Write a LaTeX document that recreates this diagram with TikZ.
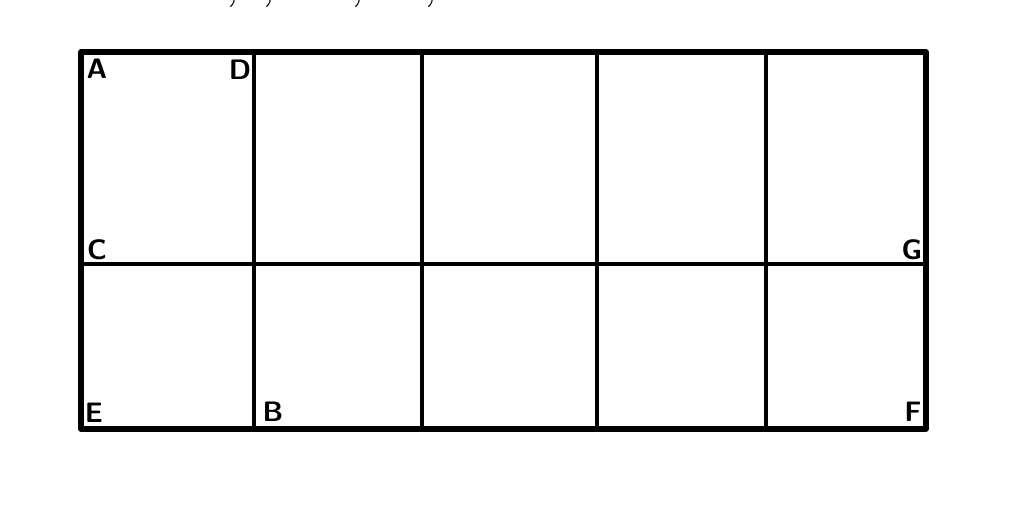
\documentclass[tikz,border=0pt]{standalone}
\usepackage{tikz}
\usetikzlibrary{calc}

\begin{document}
\begin{tikzpicture}[x=0.02cm,y=-0.02cm,
    outer/.style={line width=2.9pt,line cap=round,line join=round},
    inner/.style={line width=2pt},
    lab/.style={font=\fontsize{16}{18}\selectfont\sffamily\bfseries,inner sep=0pt}]

        \useasboundingbox (0,0) rectangle (1019,506);

        \def \ytop {52}
        \def \ymid {264}
        \def \ybot {429}

        % Grid corners
        \foreach \i/\x in {1/81,2/254,3/422,4/597,5/766,6/926} {
            \coordinate (t-\i) at (\x,\ytop);
            \coordinate (m-\i) at (\x,\ymid);
            \coordinate (b-\i) at (\x,\ybot);
        }
        % Draw grid
        \draw[outer] (t-1) rectangle (b-6);
        \draw[inner] (m-1) -- (m-6);
        \foreach \i in {2,...,5} {
            \draw[inner] (t-\i) -- (b-\i);
        }

        % Corner letters
        \node[lab] (lab-A) at (97,69) {A};
        \node[lab] (lab-D) at (240,70) {D};
        \node[lab] (lab-C) at (97,250) {C};
        \node[lab] (lab-G) at (912,250) {G};
        \node[lab] (lab-E) at (94,413) {E};
        \node[lab] (lab-B) at (273,412) {B};
        \node[lab] (lab-F) at (913,412) {F};

        % Cut-off line above
        \foreach \x [count=\k] in {232,268,357,430} {
            \node[font=\huge\bfseries,inner sep=0pt,anchor=base] (cm-\k) at (\x,1) {,};
        }

    \end{tikzpicture}
\end{document}
